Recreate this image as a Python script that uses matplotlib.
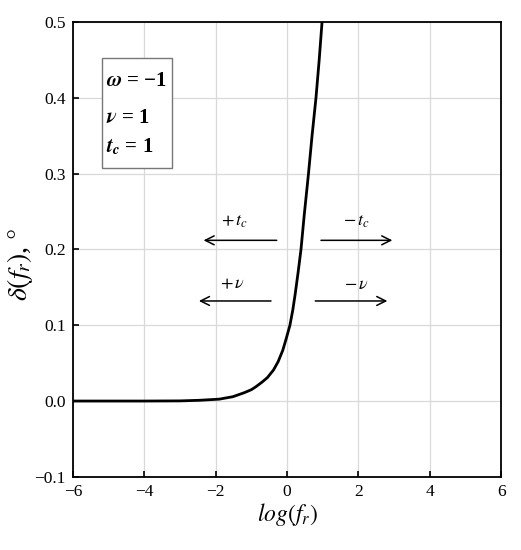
import matplotlib
matplotlib.use('Agg')
import matplotlib.pyplot as plt
from matplotlib.patches import Rectangle

plt.rcParams['font.family'] = ['Liberation Serif', 'DejaVu Serif']
plt.rcParams['mathtext.fontset'] = 'stix'

# curve
log_fr = [-6.0, -5.0, -4.0, -3.0, -2.45, -1.9, -1.52, -1.2, -1.0, -0.87, -0.7, -0.55,
          -0.38, -0.25, -0.12, -0.02, 0.08, 0.16, 0.23, 0.31, 0.39, 0.48, 0.60, 0.70,
          0.81, 0.90, 0.98]
delta = [0.0, 0.0, 0.0, 0.0002, 0.001, 0.0025, 0.0057, 0.011, 0.015, 0.019, 0.025, 0.031,
         0.041, 0.052, 0.067, 0.083, 0.100, 0.120, 0.142, 0.170, 0.200, 0.245, 0.300, 0.350,
         0.400, 0.450, 0.500]

xticks = [-6, -4, -2, 0, 2, 4, 6]
yticks = [-0.1, 0.0, 0.1, 0.2, 0.3, 0.4, 0.5]

params = ['$\\mathbfit{\\omega}$ = \u22121',
          r'$\mathbfit{\nu}$ = 1',
          r'$\mathbfit{t}_{\mathbfit{c}}$ = 1']

fig = plt.figure(figsize=(5.21, 5.5), dpi=100)
ax = fig.add_axes([0.140, 0.133, 0.822, 0.827])
ax.grid(True, color='#d9d9d9', linewidth=0.9)
ax.set_axisbelow(True)
ax.plot(log_fr, delta, color='black', linewidth=2.0, solid_capstyle='butt')

ax.set_xlim(-6, 6)
ax.set_ylim(-0.1, 0.5)
ax.set_xticks(xticks)
ax.set_yticks(yticks)
ax.set_yticklabels(['%.1f' % v if v >= 0 else '\u2212%.1f' % -v for v in yticks])
ax.tick_params(direction='in', length=4, width=1.2, labelsize=12.5, colors='black', pad=5)
for s in ax.spines.values():
    s.set_linewidth(1.3)

ax.set_xlabel(r'$log(f_r)$', fontsize=17, labelpad=1)
ax.set_ylabel(r'$\delta(f_r)$, $\degree$', fontsize=20)
ax.yaxis.set_label_coords(-0.089, 0.466)

# parameter box
ax.add_patch(Rectangle((-5.18, 0.308), 1.96, 0.1445, facecolor='white',
                       edgecolor='#777777', linewidth=1.0, zorder=3))
for lab, yy in zip(params, [0.4156, 0.367, 0.328]):
    ax.text(-5.08, yy, lab, fontsize=15, fontweight='bold', va='baseline', ha='left', zorder=4)

arrows = [(-0.29, -2.34, 0.212, r'$+\,t_c$', -1.47, 0.237),
          (0.95, 2.95, 0.212, r'$-\,t_c$', 1.93, 0.237),
          (-0.45, -2.47, 0.132, r'$+\,\nu$', -1.52, 0.154),
          (0.79, 2.81, 0.132, r'$-\,\nu$', 1.93, 0.154)]
for x0, x1, yy, lab, tx, ty in arrows:
    ax.annotate('', xy=(x1, yy), xytext=(x0, yy),
                arrowprops=dict(arrowstyle='->', color='black', linewidth=1.1,
                                mutation_scale=16, shrinkA=0, shrinkB=0))
    ax.text(tx, ty, lab, fontsize=13, ha='center', va='center')

fig.savefig('out.png', dpi=100)
